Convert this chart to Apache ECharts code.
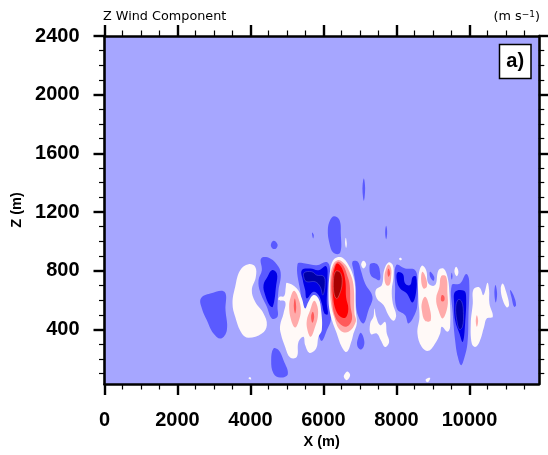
<!DOCTYPE html>
<html>
<head>
<meta charset="utf-8">
<title>Z Wind Component</title>
<script src="https://cdn.jsdelivr.net/npm/echarts@6/dist/echarts.min.js"></script>
<style>
  html, body { margin: 0; padding: 0; background: #fff; }
  #chart { width: 548px; height: 455px; }
</style>
</head>
<body>
<div id="chart"></div>
<script>
// tick values
var xMajor = [0, 2000, 4000, 6000, 8000, 10000];
var xMinor = [500, 1000, 1500, 2500, 3000, 3500, 4500, 5000, 5500, 6500, 7000, 7500, 8500, 9000, 9500, 10500, 11000, 11500];
var zMajor = [400, 800, 1200, 1600, 2000, 2400];
var zMinor = [100, 200, 300, 500, 600, 700, 900, 1000, 1100, 1300, 1400, 1500, 1700, 1800, 1900, 2100, 2200, 2300];

// filled contour areas, [x metres, z metres]
var midBlueAreas = [
  [[2640,611],[2896,645],[3288,656],[3316,531],[3352,395],[3188,338],[2987,372],[2805,463],[2668,543]],
  [[4293,884],[4539,884],[4768,827],[4831,770],[4768,668],[4740,554],[4740,486],[4585,475],[4448,554],[4265,656],[4220,736],[4311,804]],
  [[4557,975],[4631,1004],[4740,981],[4704,952],[4612,950]],
  [[4631,270],[4768,259],[4905,190],[5023,95],[4813,72],[4631,100],[4567,190]],
  [[5288,845],[5498,850],[5817,838],[6091,859],[6183,804],[6164,600],[6210,475],[6091,395],[5954,322],[5863,372],[5817,531],[5498,531],[5361,668]],
  [[6292,1172],[6438,1145],[6475,1054],[6456,922],[6274,922],[6165,986],[6119,1077],[6183,1145]],
  [[5690,1061],[5735,1043],[5717,1020],[5690,1043]],
  [[7105,1429],[7141,1361],[7105,1277],[7068,1361]],
  [[6794,861],[6940,861],[7023,804],[7141,713],[7342,622],[7233,531],[7096,441],[6959,486],[6886,577],[6886,691],[6822,804]],
  [[7023,377],[7114,327],[7096,281],[7005,263],[6922,293],[6959,350]],
  [[7717,1106],[7745,1061],[7717,1015],[7690,1061]],
  [[7297,850],[7480,843],[7553,781],[7535,736],[7416,747],[7297,770],[7261,815]],
  [[7991,838],[8238,815],[8512,804],[8575,713],[8575,577],[8512,509],[8329,441],[8238,497],[8009,543],[7964,691]],
  [[8922,793],[9032,759],[9014,731],[8922,759]],
  [[9516,786],[9534,763],[9516,740],[9497,763]],
  [[9516,702],[9744,713],[9908,777],[9991,736],[9972,486],[9945,304],[9854,202],[9771,156],[9680,213],[9607,327],[9543,509]],
  [[10712,702],[10757,645],[10721,584],[10684,645]],
  [[11114,668],[11205,634],[11278,566],[11224,554],[11159,611]]
];
var whiteAreas = [
  [[3946,845],[4128,827],[4147,759],[4037,668],[4128,588],[4357,509],[4448,429],[4311,372],[3946,343],[3763,372],[3581,486],[3508,577],[3581,691],[3718,804]],
  [[4996,718],[5270,679],[5407,611],[5498,543],[5589,588],[5726,634],[5863,611],[5936,531],[5954,395],[5863,350],[5799,270],[5617,240],[5498,293],[5452,350],[5315,315],[5270,213],[5087,209],[4950,281],[4831,372],[4813,429],[4905,509],[4950,588],[4768,600],[4795,622],[4923,627],[4968,691]],
  [[6365,891],[6548,884],[6712,827],[6822,759],[6867,691],[6886,531],[6913,441],[6822,372],[6776,327],[6639,247],[6502,281],[6365,372],[6183,509],[6137,645],[6183,804],[6256,868]],
  [[6612,1025],[6639,986],[6621,956],[6594,986]],
  [[7096,868],[7169,843],[7096,816],[7032,843]],
  [[6657,113],[6731,88],[6639,54],[6557,77],[6593,100]],
  [[3946,66],[3991,75],[4019,59]],
  [[8073,884],[8119,888],[8146,877],[8101,872]],
  [[7781,857],[7900,838],[7918,759],[7872,668],[7900,577],[7991,497],[7918,459],[7781,497],[7644,566],[7461,611],[7434,668],[7599,702],[7662,804]],
  [[7398,543],[7443,486],[7553,429],[7690,452],[7735,372],[7799,315],[7690,281],[7571,327],[7461,372],[7297,368],[7279,441],[7370,486]],
  [[8694,834],[8813,804],[8877,713],[9059,702],[9151,804],[9288,815],[9397,759],[9452,645],[9470,418],[9397,384],[9242,418],[9196,372],[9059,304],[8877,254],[8694,281],[8575,372],[8630,486],[8603,600],[8603,759]],
  [[9634,827],[9698,793],[9653,763],[9589,793]],
  [[10109,672],[10274,686],[10383,634],[10493,718],[10538,668],[10547,577],[10639,486],[10474,475],[10401,418],[10274,315],[10155,281],[10064,304],[10036,441],[10091,577]],
  [[10913,713],[11004,656],[11086,566],[11022,550],[10913,600],[10858,679]],
  [[8804,61],[8922,70],[8877,43],[8822,43]]
];
var darkBlueAreas = [
  [[4585,804],[4722,781],[4704,702],[4612,554],[4521,565],[4402,634],[4357,702],[4466,759]],
  [[5407,804],[5635,815],[5863,804],[6073,831],[6110,736],[6091,577],[6119,504],[6027,509],[5954,577],[5863,634],[5726,656],[5544,611],[5498,668],[5434,736]],
  [[8028,788],[8174,777],[8238,713],[8375,702],[8448,759],[8539,759],[8539,656],[8439,584],[8283,645],[8101,679],[8009,736]],
  [[9607,656],[9854,663],[9908,622],[9881,441],[9817,315],[9726,372],[9607,463],[9580,577]]
];
var navyAreas = [
  [[5470,786],[5681,793],[5817,770],[6000,763],[6046,713],[5982,634],[5909,691],[5772,725],[5544,725],[5470,747]],
  [[9698,604],[9790,588],[9835,509],[9808,418],[9726,400],[9653,463],[9625,554]]
];
var pinkAreas = [
  [[5197,663],[5315,611],[5379,531],[5315,452],[5224,413],[5114,463],[5060,554],[5105,622]],
  [[5744,595],[5836,554],[5845,486],[5772,418],[5653,350],[5562,395],[5544,463],[5635,531]],
  [[6384,872],[6548,854],[6712,793],[6822,702],[6850,509],[6886,452],[6685,384],[6456,395],[6292,486],[6201,588],[6183,736],[6256,838]],
  [[7781,843],[7854,815],[7854,759],[7808,702],[7717,702],[7671,759],[7717,815]],
  [[8712,793],[8813,747],[8831,691],[8740,679],[8676,736]],
  [[8785,622],[8877,577],[8941,463],[8785,459],[8694,531],[8703,588]],
  [[9224,763],[9361,759],[9397,645],[9397,554],[9269,475],[9151,531],[9087,611],[9178,691]],
  [[10201,497],[10237,459],[10201,418],[10173,459]]
];
var salmonAreas = [
  [[5215,611],[5252,554],[5224,509],[5188,554]],
  [[5708,520],[5745,486],[5699,445],[5662,486]],
  [[6384,860],[6540,835],[6660,760],[6720,700],[6740,560],[6780,470],[6640,420],[6440,440],[6300,500],[6240,590],[6210,713],[6265,810]],
  [[7781,815],[7827,781],[7781,759],[7754,786]],
  [[9242,634],[9306,627],[9306,595],[9224,595]]
];
var redAreas = [
  [[6380,850],[6510,815],[6600,730],[6620,620],[6680,540],[6600,480],[6450,490],[6340,530],[6270,611],[6256,736],[6300,810]]
];
var darkRedAreas = [
  [[6370,800],[6480,780],[6510,710],[6440,640],[6360,610],[6285,650],[6275,740],[6310,785]]
];

var bandColors = {
  background: '#a6a6ff', midBlue: '#5a5aff', white: '#fff9f7', darkBlue: '#0000e6',
  navy: '#0000a8', pink: '#ffaaaa', salmon: '#ff5a5a', red: '#ff0000', darkRed: '#a80000'
};

// one custom series per contour band, drawn lightest first
function bandSeries(areas, color, lineColor) {
  return {
    type: 'custom',
    coordinateSystem: 'cartesian2d',
    silent: true,
    data: areas.map(function (a, i) { return [i]; }),
    encode: { x: [], y: [] },
    renderItem: function (params, api) {
      var pts = areas[params.dataIndex].map(function (p) { return api.coord(p); });
      return {
        type: 'polygon',
        shape: { points: pts, smooth: 0.4 },
        style: { fill: color, stroke: lineColor || null, lineWidth: lineColor ? 0.5 : 0 }
      };
    }
  };
}

// major axes carry the frame and long ticks, minor axes only the short ticks
function axisSet(dim, position, major, minor, min, max, name, gap) {
  var isMain = position === 'bottom' || position === 'left';
  var base = { type: 'value', position: position, min: min, max: max, z: 10, splitLine: { show: false } };
  var majorAxis = Object.assign({}, base, {
    axisLine: { show: true, onZero: false, lineStyle: { color: '#000', width: 2.6 } },
    axisTick: { show: true, customValues: major, length: 11, lineStyle: { color: '#000', width: 2.4 } },
    axisLabel: {
      show: isMain, customValues: major, margin: dim === 'x' ? 26 : 25,
      formatter: function (v) { return String(v); },
      color: '#000', fontFamily: 'Liberation Sans', fontWeight: 'bold', fontSize: 20
    }
  });
  if (name) {
    majorAxis.name = name;
    majorAxis.nameLocation = 'middle';
    majorAxis.nameGap = gap;
    majorAxis.nameTextStyle = { color: '#000', fontFamily: 'Liberation Sans', fontWeight: 'bold', fontSize: 14.5 };
  }
  var minorAxis = Object.assign({}, base, {
    axisLine: { show: false, onZero: false },
    axisTick: { show: true, customValues: minor, length: 5.5, lineStyle: { color: '#000', width: 1.2 } },
    axisLabel: { show: false }
  });
  return [majorAxis, minorAxis];
}

var xRange = [0, 11900];
var zRange = [28, 2400];

var option = {
  animation: false,
  backgroundColor: '#fff',
  title: [
    {
      text: 'Z Wind Component', left: 98, top: 5,
      textStyle: { color: '#000', fontFamily: 'DejaVu Sans', fontWeight: 'normal', fontSize: 12.8 }
    },
    {
      text: '(m s{sup|\u22121})', right: 3, top: 5,
      textStyle: {
        color: '#000', fontFamily: 'DejaVu Sans', fontWeight: 'normal', fontSize: 12.8,
        rich: { sup: { fontFamily: 'DejaVu Sans', fontSize: 9, color: '#000', verticalAlign: 'top', padding: [0, 0, 4, 0] } }
      }
    }
  ],
  grid: {
    left: 104.5, right: 9.2, top: 36, bottom: 71,
    show: true, backgroundColor: bandColors.background, borderWidth: 0
  },
  xAxis: [].concat(
    axisSet('x', 'bottom', xMajor, xMinor, xRange[0], xRange[1], 'X (m)', 40),
    axisSet('x', 'top', xMajor, xMinor, xRange[0], xRange[1])
  ),
  yAxis: [].concat(
    axisSet('y', 'left', zMajor, zMinor, zRange[0], zRange[1], 'Z (m)', 68),
    axisSet('y', 'right', zMajor, zMinor, zRange[0], zRange[1])
  ),
  series: [
    bandSeries(midBlueAreas, bandColors.midBlue),
    bandSeries(whiteAreas, bandColors.white),
    bandSeries(darkBlueAreas, bandColors.darkBlue),
    bandSeries(navyAreas, bandColors.navy, '#5a5ae0'),
    bandSeries(pinkAreas, bandColors.pink),
    bandSeries(salmonAreas, bandColors.salmon),
    bandSeries(redAreas, bandColors.red),
    bandSeries(darkRedAreas, bandColors.darkRed, '#e08080')
  ],
  graphic: [
    {
      type: 'rect', z: 20, shape: { x: 499.5, y: 44.5, width: 31.5, height: 34 },
      style: { fill: '#fff', stroke: '#000', lineWidth: 1.5 }
    },
    {
      type: 'text', z: 21, x: 515.2, y: 61.5,
      style: { text: 'a)', fill: '#000', font: 'bold 20px "Liberation Sans"', textAlign: 'center', textVerticalAlign: 'middle' }
    }
  ]
};

echarts.init(document.getElementById('chart'), null, { renderer: 'canvas' }).setOption(option);
</script>
</body>
</html>
